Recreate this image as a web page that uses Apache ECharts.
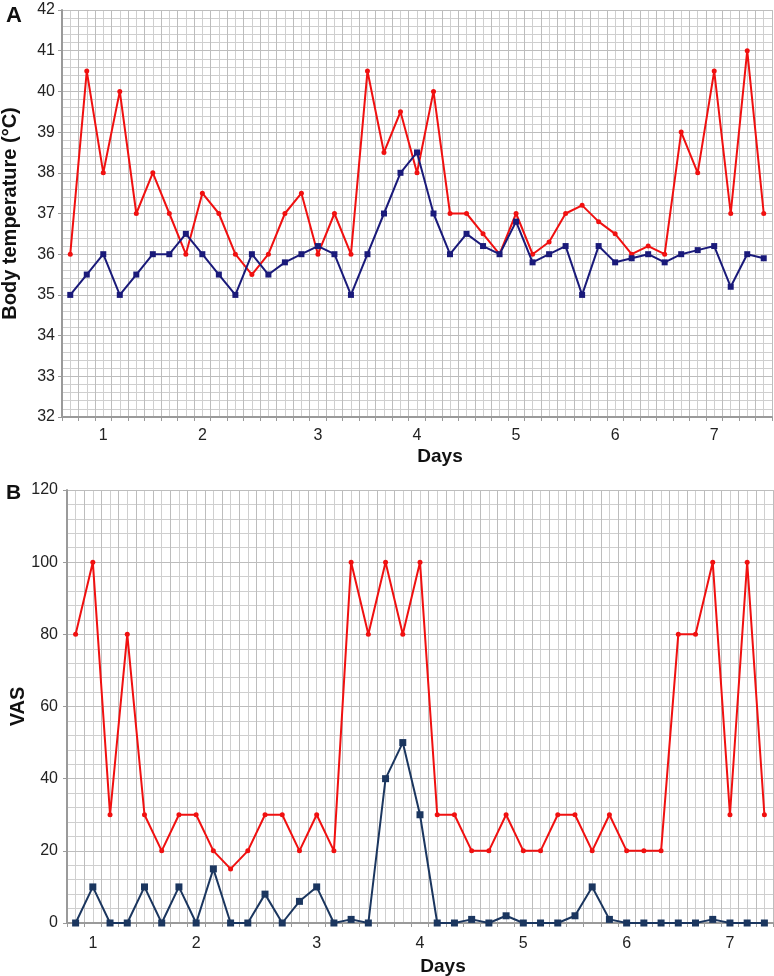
<!DOCTYPE html>
<html>
<head>
<meta charset="utf-8">
<script src="https://cdn.jsdelivr.net/npm/echarts@6/dist/echarts.min.js"></script>
<style>
html,body{margin:0;padding:0;background:#fff;}
#chart{width:774px;height:976px;}
</style>
</head>
<body>
<div id="chart"></div>
<script>
// ---- Panel A: body temperature ----
const tempRed = [36,40.5,38,40,37,38,37,36,37.5,37,36,35.5,36,37,37.5,36,37,36,40.5,38.5,39.5,38,40,37,37,36.5,36,37,36,36.3,37,37.2,36.8,36.5,36,36.2,36,39,38,40.5,37,41,37];
const tempBlue = [35,35.5,36,35,35.5,36,36,36.5,36,35.5,35,36,35.5,35.8,36,36.2,36,35,36,37,38,38.5,37,36,36.5,36.2,36,36.8,35.8,36,36.2,35,36.2,35.8,35.9,36,35.8,36,36.1,36.2,35.2,36,35.9];
const dayLabelIdxA = [2,8,15,21,27,33,39];
// ---- Panel B: VAS ----
const vasRed = [80,100,30,80,30,20,30,30,20,15,20,30,30,20,30,20,100,80,100,80,100,30,30,20,20,30,20,20,30,30,20,30,20,20,20,80,80,100,30,100,30];
const vasBlue = [0,10,0,0,10,0,10,0,15,0,0,8,0,6,10,0,1,0,40,50,30,0,0,1,0,2,0,0,0,2,10,1,0,0,0,0,0,1,0,0,0];
const dayLabelIdxB = [1,7,14,20,26,32,38];
const dayLabels = ['1','2','3','4','5','6','7'];
const tempTicks = {min:32, max:42, interval:1};
const vasTicks = {min:0, max:120, interval:20};

function cats(n, idx){
  const a = new Array(n).fill('');
  idx.forEach((k,j)=>{a[k]=dayLabels[j];});
  return a;
}
const catsA = cats(tempRed.length, dayLabelIdxA);
const catsB = cats(vasRed.length, dayLabelIdxB);

const FONT = 'Liberation Sans, Arial, sans-serif';
const axisGray = '#9a9a9a';
const gridGray = '#cfcfcf';
const gridDark = '#bdbdbd';

function catAxis(gridIndex, data, margin, nameGap){
  return {
    type:'category', gridIndex, data, boundaryGap:true,
    axisLine:{show:true, onZero:false, lineStyle:{color:axisGray, width:2}},
    axisTick:{show:true, inside:false, length:4, interval:0, lineStyle:{color:axisGray, width:1}},
    axisLabel:{interval:0, color:'#222', fontSize:16, fontFamily:FONT, margin, hideOverlap:false},
    splitLine:{show:true, interval:0, lineStyle:{color:gridDark, width:1}},
    name:'Days', nameLocation:'middle', nameGap,
    nameTextStyle:{fontSize:19, fontWeight:'bold', color:'#111', fontFamily:FONT, padding:[0,0,0,46]},
    z:3
  };
}
function gridAxis(gridIndex, n){
  return {
    type:'value', gridIndex, min:-0.5, max:n-0.5, interval:0.5,
    axisLine:{show:false, onZero:false}, axisTick:{show:false}, axisLabel:{show:false},
    splitLine:{show:true, lineStyle:{color:gridGray, width:1}}, z:1
  };
}
function valAxis(gridIndex, ticks, name, nameGap, margin){
  return {type:'value', gridIndex, min:ticks.min, max:ticks.max, interval:ticks.interval,
     axisLine:{show:true, onZero:false, lineStyle:{color:axisGray, width:2}},
     axisTick:{show:true, length:4, lineStyle:{color:axisGray}},
     axisLabel:{color:'#222', fontSize:16, fontFamily:FONT, margin},
     splitLine:{show:true, lineStyle:{color:gridDark}},
     minorTick:{show:false, splitNumber:5},
     minorSplitLine:{show:true, lineStyle:{color:gridGray}},
     name, nameLocation:'middle', nameGap, nameMoveOverlap:false,
     nameTextStyle:{fontSize:20, fontWeight:'bold', color:'#111', fontFamily:FONT}, z:3};
}

const option = {
  animation:false,
  backgroundColor:'#fff',
  title:[
    {text:'A', left:1, top:0, textStyle:{fontSize:22, fontWeight:'bold', color:'#111', fontFamily:FONT}},
    {text:'B', left:1, top:478, textStyle:{fontSize:21, fontWeight:'bold', color:'#111', fontFamily:FONT}}
  ],
  grid:[
    {left:62, top:10, right:2, height:407, containLabel:false, outerBoundsMode:'none'},
    {left:67, top:490, right:1, height:433, containLabel:false, outerBoundsMode:'none'}
  ],
  xAxis:[
    catAxis(0, catsA, 11, 30),
    catAxis(1, catsB, 13, 34),
    gridAxis(0, tempRed.length),
    gridAxis(1, vasRed.length)
  ],
  yAxis:[
    valAxis(0, tempTicks, 'Body temperature (°C)', 42, 7),
    valAxis(1, vasTicks, 'VAS', 39, 9)
  ],
  series:[
    {type:'line', xAxisIndex:0, yAxisIndex:0, data:tempRed, symbol:'circle', symbolSize:5,
     lineStyle:{color:'#f01010', width:2}, itemStyle:{color:'#f01010'}, z:5},
    {type:'line', xAxisIndex:0, yAxisIndex:0, data:tempBlue, symbol:'rect', symbolSize:6,
     lineStyle:{color:'#1a1a7a', width:2}, itemStyle:{color:'#1a1a7a'}, z:6},
    {type:'line', xAxisIndex:1, yAxisIndex:1, data:vasRed, symbol:'circle', symbolSize:5,
     lineStyle:{color:'#f01010', width:2}, itemStyle:{color:'#f01010'}, z:5},
    {type:'line', xAxisIndex:1, yAxisIndex:1, data:vasBlue, symbol:'rect', symbolSize:7,
     lineStyle:{color:'#1b365f', width:2}, itemStyle:{color:'#1b365f'}, z:6}
  ]
};
const chart = echarts.init(document.getElementById('chart'), null, {renderer:'canvas'});
chart.setOption(option);
</script>
</body>
</html>
